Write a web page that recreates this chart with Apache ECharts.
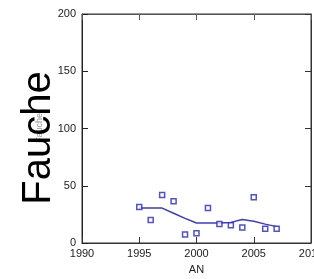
<!DOCTYPE html>
<html>
<head>
<meta charset="utf-8">
<script src="https://cdn.jsdelivr.net/npm/echarts@6/dist/echarts.min.js"></script>
<style>
html, body { margin: 0; padding: 0; background: #fff; }
#main { width: 314px; height: 279px; }
</style>
</head>
<body>
<div id="main"></div>
<script>
// données
var annees = [1995, 1996, 1997, 1998, 1999, 2000, 2001, 2002, 2003, 2004, 2005, 2006, 2007];
var fauche = [31.5, 20, 42, 36.5, 7.5, 8.5, 30.5, 16.5, 15.5, 13.5, 40, 12.5, 12.5];
var lissage = [30.5, 30.5, 30.5, 26, 21.5, 17.5, 17.5, 17.5, 18, 20.5, 19, 16.5, 14.3];
var xTicks = [1990, 2010, 5];
var yTicks = [0, 200, 50];

var myChart = echarts.init(document.getElementById('main'));

var axisFont = { color: '#222', fontSize: 11, fontFamily: 'Liberation Sans' };

option = {
    animation: false,
    grid: {
        left: 82,
        right: 3,
        top: 14,
        bottom: 36,
        outerBoundsMode: 'none',
        show: true,
        borderColor: '#333',
        borderWidth: 1
    },
    xAxis: [
        {
            type: 'value',
            min: xTicks[0],
            max: xTicks[1],
            interval: xTicks[2],
            name: 'AN',
            nameLocation: 'middle',
            nameGap: 21,
            nameTextStyle: axisFont,
            axisLine: { onZero: false, lineStyle: { color: '#333', width: 1 } },
            axisTick: { inside: true, length: 6, lineStyle: { color: '#333' } },
            axisLabel: {
                margin: 5, color: '#222', fontSize: 11, fontFamily: 'Liberation Sans',
                formatter: function (v) { return String(v); }
            },
            splitLine: { show: false }
        },
        {
            type: 'value',
            position: 'top',
            min: xTicks[0],
            max: xTicks[1],
            interval: xTicks[2],
            axisLine: { onZero: false, lineStyle: { color: '#555', width: 1 } },
            axisTick: { inside: true, length: 6, lineStyle: { color: '#555' } },
            axisLabel: { show: false },
            splitLine: { show: false }
        }
    ],
    yAxis: [
        {
            type: 'value',
            min: yTicks[0],
            max: yTicks[1],
            interval: yTicks[2],
            axisLine: { show: true, onZero: false, lineStyle: { color: '#222', width: 1 } },
            axisTick: { show: true, inside: true, length: 6, lineStyle: { color: '#222' } },
            axisLabel: { margin: 6, color: '#222', fontSize: 11, fontFamily: 'Liberation Sans' },
            splitLine: { show: false }
        },
        {
            type: 'value',
            position: 'right',
            min: yTicks[0],
            max: yTicks[1],
            interval: yTicks[2],
            axisLine: { show: true, onZero: false, lineStyle: { color: '#333', width: 1 } },
            axisTick: { show: true, inside: true, length: 6, lineStyle: { color: '#333' } },
            axisLabel: { show: false },
            splitLine: { show: false }
        }
    ],
    graphic: [
        {
            type: 'text',
            x: 40,
            y: 128,
            rotation: Math.PI / 2,
            style: {
                text: 'Fauche',
                fill: '#999',
                font: '9px "Liberation Sans"',
                textAlign: 'center',
                textVerticalAlign: 'middle'
            }
        },
        {
            type: 'text',
            x: 39,
            y: 138,
            rotation: Math.PI / 2,
            style: {
                text: 'Fauche',
                fill: '#000',
                font: '40px "Liberation Sans"',
                textAlign: 'center',
                textVerticalAlign: 'middle'
            }
        }
    ],
    series: [
        {
            name: 'lissage',
            type: 'line',
            data: annees.map(function (a, i) { return [a, lissage[i]]; }),
            showSymbol: false,
            smooth: false,
            lineStyle: { color: '#3a3acc', width: 1.5 },
            z: 2
        },
        {
            name: 'Fauche',
            type: 'scatter',
            data: annees.map(function (a, i) { return [a, fauche[i]]; }),
            symbol: 'rect',
            symbolSize: 5,
            itemStyle: { color: '#fff', borderColor: '#2424c8', borderWidth: 1.5 },
            z: 3
        }
    ]
};
myChart.setOption(option);
</script>
</body>
</html>
